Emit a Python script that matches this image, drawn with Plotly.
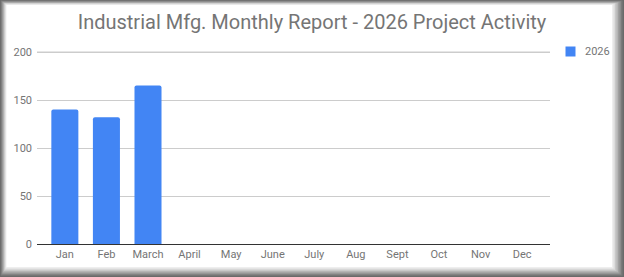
import plotly.graph_objects as go

months = ["Jan", "Feb", "March", "April", "May", "June", "July", "Aug", "Sept", "Oct", "Nov", "Dec"]
values_2026 = [140, 132, 165, None, None, None, None, None, None, None, None, None]
series_name = "2026"
title_text = "Industrial Mfg. Monthly Report - 2026 Project Activity"
y_ticks = [0, 50, 100, 150, 200]
bar_color = "#4285F4"

W, H = 624, 277
ML, MR, MT, MB = 37, 74, 40, 33
PW, PH = W - ML - MR, H - MT - MB
Y_TOP = PH / 0.96  # 0.96 px per unit keeps tick gridlines on whole pixels

def px2x(px):
    return (px - ML) / PW

def py2y(py):
    return (H - MB - py) / PH

fig = go.Figure()
fig.add_trace(go.Bar(x=months, y=values_2026, name=series_name,
                     marker=dict(color=bar_color, line=dict(width=0)),
                     showlegend=False))

# frame / shadow
colors = ['#6a6a6a', '#7a7a7a', '#8c8c8c', '#a0a0a0', '#b4b4b4', '#c8c8c8', '#dcdcdc', '#eeeeee', '#ffffff']
li = [0, 0.8, 1.6, 2.4, 3.2, 4, 4.8, 5.6, 6.5]
ti = [0, 0.6, 1.2, 1.8, 2.4, 3, 3.6, 4.2, 5]
ri = [0, 1.5, 3, 4.5, 6, 7.5, 9, 10.5, 12]
bi = [0, 1.2, 2.4, 3.6, 4.8, 6, 7.2, 8.4, 10]
shapes = []
for c, l, t, r, b in zip(colors, li, ti, ri, bi):
    shapes.append(dict(type="rect", xref="paper", yref="paper", layer="below",
                       x0=px2x(l), x1=px2x(W - r), y0=py2y(H - b), y1=py2y(t),
                       fillcolor=c, line=dict(width=0)))
# top gridline (ensure it is drawn)
shapes.append(dict(type="line", xref="paper", yref="y", layer="above",
                   x0=0, x1=1, y0=y_ticks[-1], y1=y_ticks[-1],
                   line=dict(color="#cccccc", width=1)))
# legend swatch
shapes.append(dict(type="rect", xref="paper", yref="paper", layer="above",
                   x0=px2x(565.5), x1=px2x(575.5), y0=py2y(56.5), y1=py2y(46.5),
                   fillcolor=bar_color, line=dict(width=0)))

annotations = [dict(text=series_name, xref="paper", yref="paper",
                    x=px2x(582.5), y=py2y(51.5), xanchor="left", yanchor="middle",
                    showarrow=False, font=dict(size=11, color="#757575"))]

fig.update_layout(
    width=W, height=H,
    margin=dict(l=ML, r=MR, t=MT, b=MB, autoexpand=False),
    paper_bgcolor="white", plot_bgcolor="rgba(0,0,0,0)",
    font=dict(family="Roboto", color="#757575", size=11),
    title=dict(text=title_text, x=0.5, xref="container", xanchor="center",
               y=1 - 22 / H, yref="container", yanchor="middle",
               font=dict(family="Roboto", size=20, color="#757575")),
    bargap=0.35,
    barcornerradius=2,
    shapes=shapes,
    annotations=annotations,
    showlegend=False,
    xaxis=dict(type="category", categoryorder="array", categoryarray=months,
               range=[-0.67, 11.67], showgrid=False, showline=True,
               linecolor="#333333", linewidth=1, ticks="", tickfont=dict(size=11),
               fixedrange=True),
    yaxis=dict(range=[0, Y_TOP], tickvals=y_ticks, showgrid=True,
               gridcolor="#cccccc", gridwidth=1, zeroline=False, ticks="",
               tickfont=dict(size=11), ticklabelstandoff=4, fixedrange=True),
)

fig.write_html("out.html")
